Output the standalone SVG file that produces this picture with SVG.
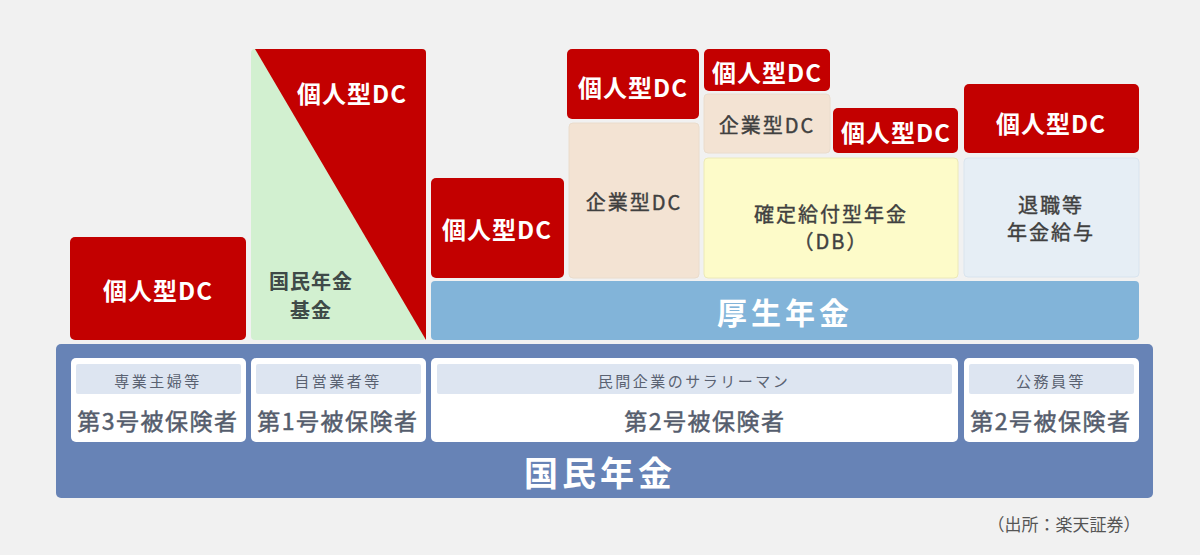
<svg xmlns="http://www.w3.org/2000/svg" width="1200" height="555" viewBox="0 0 1200 555">
<style>
text{font-family:"Noto Sans CJK JP","Noto Sans",sans-serif;text-anchor:middle;dominant-baseline:central}
.red{fill:#c30000}
.rt{fill:#fff;font-weight:bold;font-size:24px;letter-spacing:1px}
.dt{fill:#404040;stroke:#404040;stroke-width:0.4px;font-size:20px;letter-spacing:2px}
.wb{fill:#fff}
.strip{fill:#dde5f1}
.sl{fill:#5a6272;font-size:15px;letter-spacing:2.5px}
.bl{fill:#555d6d;stroke:#555d6d;stroke-width:0.5px;font-size:23px;letter-spacing:1.5px}
</style>
<rect width="1200" height="555" fill="#f1f1f1"/>
<g id="base">
<rect x="56" y="344" width="1097" height="154" rx="5" fill="#6783b6"/>
<text x="600" y="471" fill="#fff" font-size="34" font-weight="bold" letter-spacing="4">国民年金</text>
</g>
<g id="ins3">
<rect x="71" y="358" width="175" height="84" rx="5" class="wb"/>
<rect x="76" y="364" width="165" height="30" rx="2" class="strip"/>
<text x="158" y="380" class="sl">専業主婦等</text>
<text x="158" y="420" class="bl">第3号被保険者</text>
</g>
<g id="ins1">
<rect x="251" y="358" width="175" height="84" rx="5" class="wb"/>
<rect x="256" y="364" width="165" height="30" rx="2" class="strip"/>
<text x="338" y="380" class="sl">自営業者等</text>
<text x="338" y="420" class="bl">第1号被保険者</text>
</g>
<g id="ins2a">
<rect x="431" y="358" width="527" height="84" rx="5" class="wb"/>
<rect x="437" y="364" width="515" height="30" rx="2" class="strip"/>
<text x="694" y="380" class="sl">民間企業のサラリーマン</text>
<text x="705" y="420" class="bl">第2号被保険者</text>
</g>
<g id="ins2b">
<rect x="964" y="358" width="175" height="84" rx="5" class="wb"/>
<rect x="969" y="364" width="165" height="30" rx="2" class="strip"/>
<text x="1051" y="380" class="sl">公務員等</text>
<text x="1051" y="420" class="bl">第2号被保険者</text>
</g>
<g id="kosei">
<rect x="431" y="281" width="708" height="59" rx="4" fill="#82b4d9"/>
<text x="785" y="311" fill="#fff" font-size="30" font-weight="bold" letter-spacing="4">厚生年金</text>
</g>
<g id="dc-3">
<rect x="70" y="237" width="176" height="103" rx="5" class="red"/>
<text x="158" y="289" class="rt">個人型DC</text>
</g>
<g id="kikin">
<rect x="251" y="49" width="175" height="291" rx="4" fill="#d2f0d0"/>
<path d="M255,49 H422 Q426,49 426,53 V340 Z" class="red"/>
<text x="352" y="92" class="rt">個人型DC</text>
<text x="311" y="280" fill="#3f4a48" font-size="20" font-weight="bold" letter-spacing="1">国民年金</text>
<text x="311" y="309" fill="#3f4a48" font-size="20" font-weight="bold" letter-spacing="1">基金</text>
</g>
<g id="dc-2a">
<rect x="431" y="178" width="133" height="100" rx="5" class="red"/>
<text x="497" y="228" class="rt">個人型DC</text>
</g>
<g id="dc-2b">
<rect x="567" y="49" width="132" height="70" rx="5" class="red"/>
<text x="633" y="86" class="rt">個人型DC</text>
</g>
<g id="kigyo-a">
<rect x="569" y="123" width="130" height="155" rx="4" fill="#f3e3d3" stroke="#eadccc"/>
<text x="634" y="201" class="dt">企業型DC</text>
</g>
<g id="dc-2c">
<rect x="704" y="49" width="126" height="42" rx="5" class="red"/>
<text x="767" y="71" class="rt">個人型DC</text>
</g>
<g id="kigyo-b">
<rect x="704" y="94" width="126" height="59" rx="4" fill="#f3e3d3" stroke="#eadccc"/>
<text x="767" y="124" class="dt">企業型DC</text>
</g>
<g id="dc-2d">
<rect x="833" y="108" width="125" height="45" rx="5" class="red"/>
<text x="896" y="131" class="rt">個人型DC</text>
</g>
<g id="db">
<rect x="704" y="158" width="254" height="120" rx="4" fill="#fdfbc9" stroke="#ece9b8"/>
<text x="831" y="213" class="dt" font-size="21" letter-spacing="3">確定給付型年金</text>
<text x="831" y="240" class="dt" font-size="21">（DB）</text>
</g>
<g id="dc-2e">
<rect x="964" y="84" width="175" height="69" rx="5" class="red"/>
<text x="1051" y="122" class="rt">個人型DC</text>
</g>
<g id="taishoku">
<rect x="964" y="158" width="175" height="119" rx="4" fill="#e6eef5" stroke="#d9e4ee"/>
<text x="1051" y="204" class="dt" font-size="21" letter-spacing="2.5">退職等</text>
<text x="1051" y="231" class="dt" font-size="21" letter-spacing="2.5">年金給与</text>
</g>
<g id="connectors"/>
<text x="1064" y="523" fill="#555" font-size="17">（出所：楽天証券）</text>
</svg>
